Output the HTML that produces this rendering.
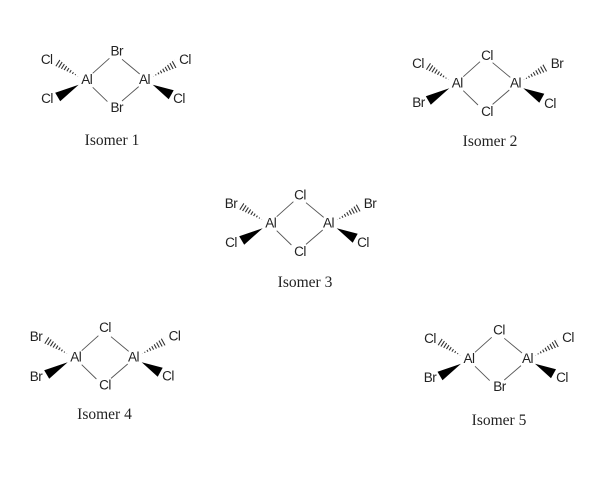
<!DOCTYPE html>
<html>
<head>
<meta charset="utf-8">
<style>
html,body{margin:0;padding:0;background:#fff;width:614px;height:483px;overflow:hidden}
svg{display:block;filter:blur(.3px)}
.a{font:13.5px "Liberation Sans",sans-serif;letter-spacing:-.5px;fill:#222;text-anchor:middle}
.c{font:15.5px "Liberation Serif",serif;fill:#222;text-anchor:middle}
</style>
</head>
<body>
<svg width="614" height="483" viewBox="0 0 614 483" xmlns="http://www.w3.org/2000/svg">
<defs>
<clipPath id="hl"><polygon points="-8.3,-2.7 -28.5,-20.8 -33,-14"/></clipPath>
<clipPath id="hr"><polygon points="66,-2.7 91,-12 87.5,-19.5"/></clipPath>
<g id="m">
<path d="M6,-6L22.7,-21M35.3,-20L53,-5.3M6,8L20.7,22.3M35.3,21.7L52,7.3" stroke="#555" stroke-width=".9" fill="none"/>
<polygon points="-8,5.5 -31.5,13.5 -26.5,22" fill="#000"/>
<polygon points="66,5.5 87,11 82,20" fill="#000"/>
<g clip-path="url(#hl)"><path d="M-8.3,-2.7L-33,-18.5" stroke="#333" stroke-width="12" stroke-dasharray="1.1 1.9" fill="none"/></g>
<g clip-path="url(#hr)"><path d="M66,-2.7L91.3,-16.5" stroke="#333" stroke-width="12" stroke-dasharray="1.1 1.9" fill="none"/></g>
</g>
</defs>
<rect width="614" height="483" fill="#fff"/>

<use href="#m" transform="translate(86.7,79.3)"/>
<text class="a" x="86.7" y="84">Al</text><text class="a" x="144.5" y="84">Al</text>
<text class="a" x="116.7" y="55.5">Br</text><text class="a" x="116.7" y="112">Br</text>
<text class="a" x="46.7" y="63.8">Cl</text><text class="a" x="47" y="102.8">Cl</text>
<text class="a" x="185" y="63.8">Cl</text><text class="a" x="179" y="102.8">Cl</text>
<text class="c" x="112" y="145">Isomer 1</text>

<use href="#m" transform="translate(457.3,82.7)"/>
<text class="a" x="457.3" y="87.4">Al</text><text class="a" x="515.5" y="87.4">Al</text>
<text class="a" x="487" y="59.8">Cl</text><text class="a" x="487" y="115.8">Cl</text>
<text class="a" x="418" y="67.8">Cl</text><text class="a" x="418.5" y="106.8">Br</text>
<text class="a" x="557" y="67.8">Br</text><text class="a" x="550" y="107.8">Cl</text>
<text class="c" x="490" y="146">Isomer 2</text>

<use href="#m" transform="translate(270.7,222.7)"/>
<text class="a" x="270.7" y="227.4">Al</text><text class="a" x="328.5" y="227.4">Al</text>
<text class="a" x="300" y="199.3">Cl</text><text class="a" x="300" y="255.8">Cl</text>
<text class="a" x="231" y="207.8">Br</text><text class="a" x="231" y="246.8">Cl</text>
<text class="a" x="370" y="207.8">Br</text><text class="a" x="363" y="246.8">Cl</text>
<text class="c" x="305" y="287">Isomer 3</text>

<use href="#m" transform="translate(75.7,356.7)"/>
<text class="a" x="75.7" y="361.4">Al</text><text class="a" x="133.5" y="361.4">Al</text>
<text class="a" x="105" y="331.8">Cl</text><text class="a" x="105" y="389.3">Cl</text>
<text class="a" x="36" y="340.8">Br</text><text class="a" x="36" y="380.8">Br</text>
<text class="a" x="174.5" y="340.3">Cl</text><text class="a" x="168" y="380.3">Cl</text>
<text class="c" x="104.5" y="419">Isomer 4</text>

<use href="#m" transform="translate(469,358.3)"/>
<text class="a" x="469" y="363">Al</text><text class="a" x="527.5" y="363">Al</text>
<text class="a" x="499" y="334.3">Cl</text><text class="a" x="499.5" y="390.8">Br</text>
<text class="a" x="430" y="342.8">Cl</text><text class="a" x="430" y="381.8">Br</text>
<text class="a" x="568" y="341.8">Cl</text><text class="a" x="562" y="381.8">Cl</text>
<text class="c" x="499" y="425">Isomer 5</text>
</svg>
</body>
</html>
